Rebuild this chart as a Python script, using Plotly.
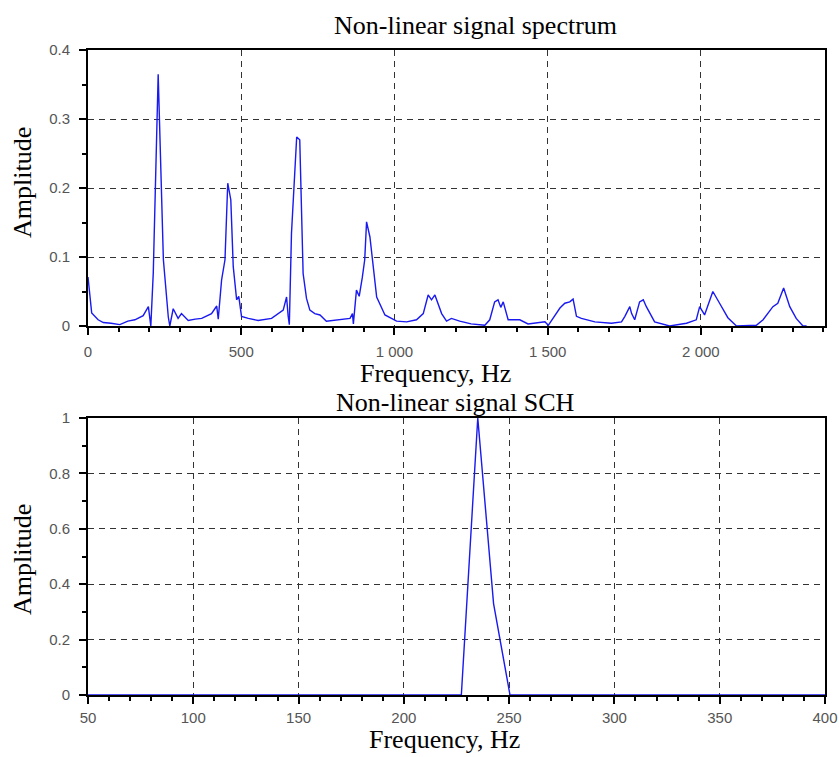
import plotly.graph_objects as go

# ---------------- data ----------------
spec_freq = [0, 5, 12, 33, 50, 75, 104, 130, 153, 180, 197, 205, 213, 229, 246, 262, 267, 278, 294, 305,
             327, 350, 371, 403, 420, 425, 436, 447, 456, 466, 474, 485, 492, 501, 523, 555, 599, 637, 648,
             653, 657, 664, 681, 691, 702, 713, 724, 740, 757, 778, 811, 855, 863, 866, 876, 885, 895, 903,
             909, 920, 942, 969, 1007, 1040, 1072, 1094, 1110, 1121, 1132, 1154, 1170, 1186, 1213, 1250,
             1295, 1311, 1327, 1338, 1347, 1355, 1371, 1393, 1409, 1436, 1491, 1502, 1523, 1540, 1556, 1572,
             1583, 1594, 1610, 1654, 1708, 1741, 1752, 1768, 1774, 1784, 1800, 1812, 1822, 1849, 1898, 1953,
             1985, 1996, 2012, 2039, 2061, 2088, 2116, 2181, 2203, 2219, 2235, 2251, 2270, 2290, 2311, 2333,
             2345]
spec_amp = [0.071, 0.05, 0.019, 0.009, 0.005, 0.004, 0.002, 0.007, 0.009, 0.015, 0.028, 0.0, 0.077, 0.365,
            0.096, 0.013, 0.0, 0.025, 0.011, 0.018, 0.008, 0.01, 0.011, 0.018, 0.029, 0.01, 0.067, 0.096,
            0.207, 0.183, 0.086, 0.038, 0.043, 0.014, 0.011, 0.008, 0.011, 0.023, 0.042, 0.015, 0.002, 0.134,
            0.274, 0.27, 0.076, 0.04, 0.023, 0.018, 0.016, 0.007, 0.009, 0.011, 0.018, 0.003, 0.052, 0.043,
            0.07, 0.096, 0.151, 0.129, 0.042, 0.016, 0.007, 0.006, 0.009, 0.018, 0.045, 0.038, 0.045, 0.018,
            0.007, 0.011, 0.007, 0.003, 0.001, 0.009, 0.035, 0.038, 0.027, 0.035, 0.009, 0.009, 0.009, 0.003,
            0.006, 0.001, 0.014, 0.026, 0.033, 0.035, 0.039, 0.014, 0.011, 0.006, 0.004, 0.006, 0.014, 0.028,
            0.018, 0.009, 0.035, 0.038, 0.028, 0.006, 0.0, 0.004, 0.009, 0.028, 0.016, 0.05, 0.033, 0.012,
            0.0, 0.001, 0.009, 0.018, 0.028, 0.033, 0.055, 0.028, 0.011, 0.0, 0.0]

sch_freq = [50, 100, 150, 200, 219.5, 227.3, 235.1, 242.6, 250.4, 258, 300, 350, 400]
sch_amp = [0, 0, 0, 0, 0, 0, 1.0, 0.33, 0, 0, 0, 0, 0]

top_x_ticks = [0, 500, 1000, 1500, 2000]
top_x_labels = ["0", "500", "1 000", "1 500", "2 000"]
top_y_ticks = [0, 0.1, 0.2, 0.3, 0.4]
top_y_labels = ["0", "0.1", "0.2", "0.3", "0.4"]
bot_x_ticks = [50, 100, 150, 200, 250, 300, 350, 400]
bot_x_labels = ["50", "100", "150", "200", "250", "300", "350", "400"]
bot_y_ticks = [0, 0.2, 0.4, 0.6, 0.8, 1.0]
bot_y_labels = ["0", "0.2", "0.4", "0.6", "0.8", "1"]

title_top = "Non-linear signal spectrum"
title_bot = "Non-linear signal SCH"
x_title = "Frequency, Hz"
y_title = "Amplitude"

# ---------------- figure ----------------
W, H = 839, 757
LINE = "rgb(25,25,240)"
SERIF = "Liberation Serif, Times New Roman, serif"
SANS = "Liberation Sans, Arial, sans-serif"

fig = go.Figure()
fig.add_trace(go.Scatter(x=spec_freq, y=spec_amp, mode="lines",
                         line=dict(color=LINE, width=1.4), xaxis="x", yaxis="y",
                         showlegend=False, hoverinfo="skip"))
fig.add_trace(go.Scatter(x=sch_freq, y=sch_amp, mode="lines",
                         line=dict(color=LINE, width=1.4), xaxis="x2", yaxis="y2",
                         showlegend=False, hoverinfo="skip"))

def px_x(p):
    return p / W

def px_y(p):
    return 1 - p / H

common = dict(showline=True, linecolor="black", linewidth=2, mirror=True,
              ticks="outside", ticklen=7, tickwidth=1.5, tickcolor="black",
              showgrid=True, gridcolor="#333333", gridwidth=1.3, griddash="6px,5px",
              zeroline=False, automargin=False, layer="above traces",
              tickfont=dict(family=SANS, size=15, color="#555555"))

xdom = [px_x(88), px_x(825)]
fig.update_layout(
    width=W, height=H,
    margin=dict(l=0, r=0, t=0, b=0),
    paper_bgcolor="white", plot_bgcolor="white",
    xaxis=dict(domain=xdom, anchor="y", range=[0, 2405],
               tickmode="array", tickvals=top_x_ticks, ticktext=top_x_labels,
               ticklabelstandoff=4,
               minor=dict(dtick=100, tick0=0, ticks="outside", ticklen=4, tickcolor="black", showgrid=False),
               **common),
    yaxis=dict(domain=[px_y(326), px_y(50)], anchor="x", range=[0, 0.4],
               tickmode="array", tickvals=top_y_ticks, ticktext=top_y_labels,
               ticklabelstandoff=6,
               minor=dict(dtick=0.05, tick0=0, ticks="outside", ticklen=4, tickcolor="black", showgrid=False),
               **common),
    xaxis2=dict(domain=xdom, anchor="y2", range=[50, 400],
                tickmode="array", tickvals=bot_x_ticks, ticktext=bot_x_labels,
                ticklabelstandoff=1,
                minor=dict(dtick=10, tick0=0, ticks="outside", ticklen=4, tickcolor="black", showgrid=False),
                **common),
    yaxis2=dict(domain=[px_y(695), px_y(418)], anchor="x2", range=[0, 1],
                tickmode="array", tickvals=bot_y_ticks, ticktext=bot_y_labels,
                ticklabelstandoff=6,
                minor=dict(dtick=0.1, tick0=0, ticks="outside", ticklen=4, tickcolor="black", showgrid=False),
                **common),
)

def label(text, x, y, size=26, angle=0):
    fig.add_annotation(text=text, x=px_x(x), y=px_y(y), xref="paper", yref="paper",
                       xanchor="center", yanchor="middle", showarrow=False, textangle=angle,
                       font=dict(family=SERIF, size=size, color="black"))

label(title_top, 475, 26)
label(x_title, 435, 373)
label(title_bot, 455, 402)
label(x_title, 444, 739)
label(y_title, 22, 183, angle=-90)
label(y_title, 22, 560, angle=-90)

# remove the default page margin and scrollbars so the figure fills the window exactly
page_fix = ("document.documentElement.style.overflow='hidden';"
            "document.body.style.overflow='hidden';"
            "document.body.style.margin='0';")

fig.write_html("out.html", post_script=page_fix, config={"displayModeBar": False})
